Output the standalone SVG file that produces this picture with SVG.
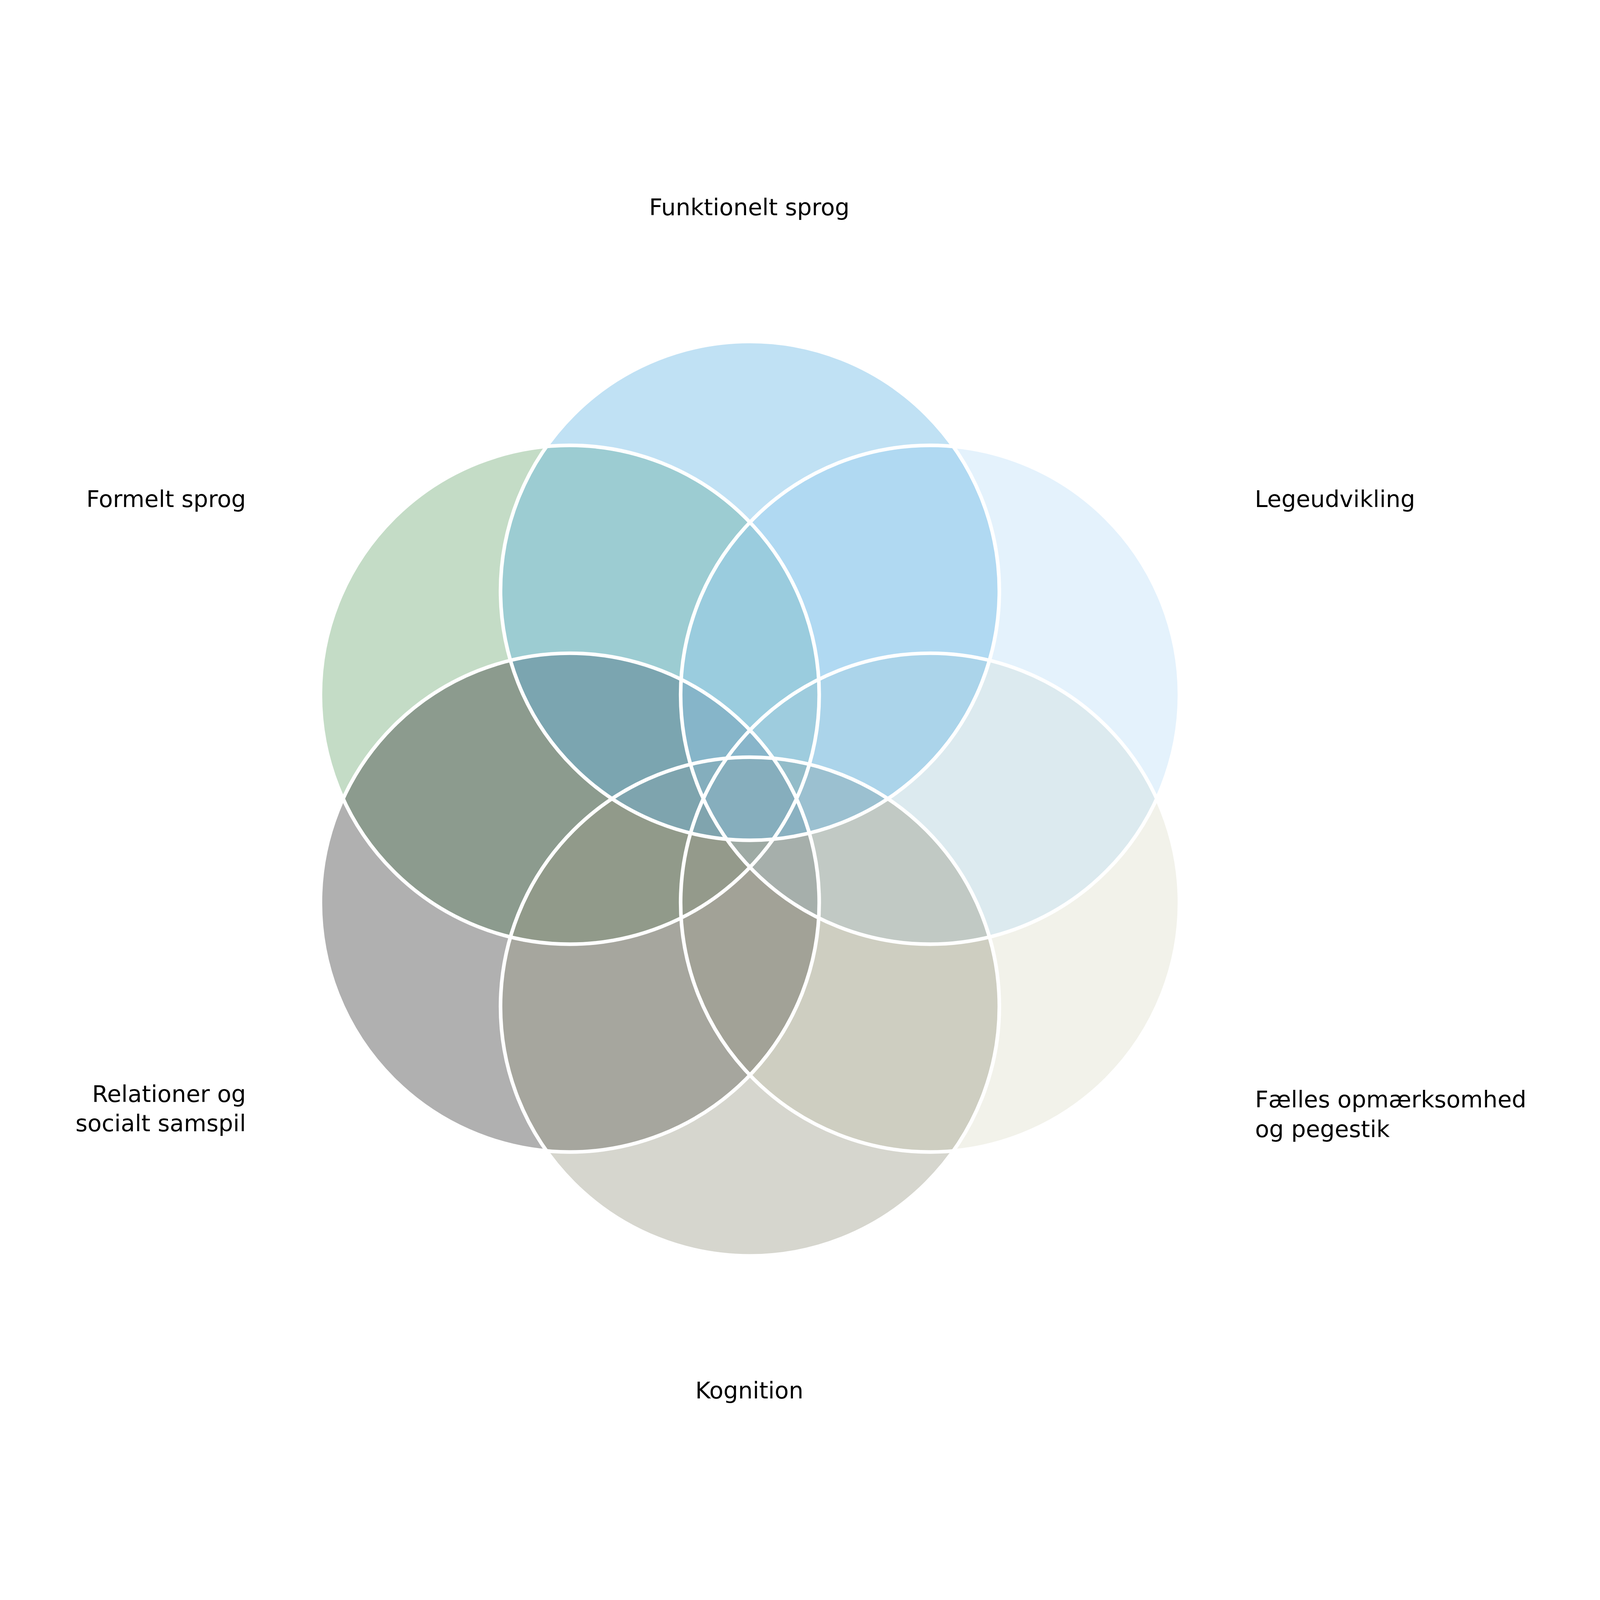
<svg xmlns="http://www.w3.org/2000/svg" width="5543" height="4569" viewBox="0 0 5543 4569" style="width:100%;height:100%" preserveAspectRatio="xMidYMid meet">
<style>
.fill{fill-opacity:0.4;stroke:none}
.ring{fill:none;stroke:#ffffff;stroke-width:12.5}
.lbl{font-family:"DejaVu Sans","Liberation Sans",sans-serif;font-size:80px;fill:#000000}
</style>
<rect x="0" y="0" width="5543" height="4569" fill="#ffffff"/>
<g id="node-formelt-sprog">
<circle class="fill" cx="1974" cy="1920" r="864" fill="#6ca871"/>
<text class="lbl" x="852" y="1269" text-anchor="end">Formelt sprog</text>
</g>
<g id="node-faelles">
<circle class="fill" cx="3222" cy="2640" r="864" fill="#dfdfcb"/>
<text class="lbl"><tspan x="4348" y="3349">Fælles opmærksomhed</tspan><tspan x="4348" y="3452">og pegestik</tspan></text>
</g>
<g id="node-relationer">
<circle class="fill" cx="1974" cy="2640" r="864" fill="#3a3a3a"/>
<text class="lbl" text-anchor="end"><tspan x="852" y="3331">Relationer og</tspan><tspan x="852" y="3432">socialt samspil</tspan></text>
</g>
<g id="node-legeudvikling">
<circle class="fill" cx="3222" cy="1920" r="864" fill="#bcdff8"/>
<text class="lbl" x="4347" y="1269">Legeudvikling</text>
</g>
<g id="node-kognition">
<circle class="fill" cx="2598" cy="3000" r="864" fill="#999985"/>
<text class="lbl" x="2596" y="4358" text-anchor="middle">Kognition</text>
</g>
<g id="node-funktionelt-sprog">
<circle class="fill" cx="2598" cy="1560" r="864" fill="#61b4e3"/>
<text class="lbl" x="2596" y="258" text-anchor="middle">Funktionelt sprog</text>
</g>
<g id="outlines">
<circle class="ring" cx="1974" cy="1920" r="864"/>
<circle class="ring" cx="1974" cy="2640" r="864"/>
<circle class="ring" cx="3222" cy="2640" r="864"/>
<circle class="ring" cx="3222" cy="1920" r="864"/>
<circle class="ring" cx="2598" cy="3000" r="864"/>
<circle class="ring" cx="2598" cy="1560" r="864"/>
</g>
</svg>
